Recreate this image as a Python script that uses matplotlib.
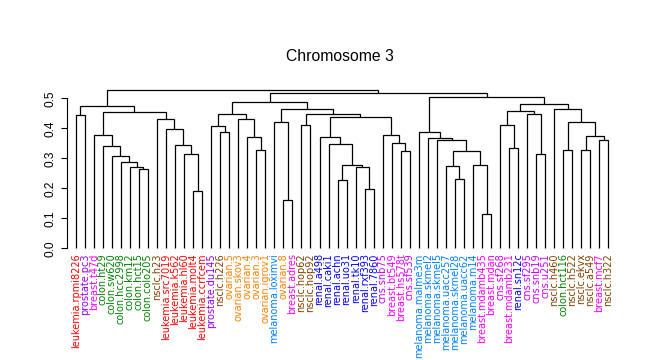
import matplotlib
matplotlib.use("Agg")
import matplotlib.pyplot as plt
import matplotlib.transforms as mtransforms

plt.rcParams['font.family'] = ['Liberation Sans', 'DejaVu Sans']

# leaf labels, left to right
labels = ["leukemia.rpmi8226", "prostate.pc3", "breast.t47d", "colon.ht29", "colon.sw620",
          "colon.hcc2998", "colon.km12", "colon.hct15", "colon.colo205", "nsclc.h23",
          "leukemia.src7019", "leukemia.k562", "leukemia.hl60", "leukemia.molt4", "leukemia.ccrfcem",
          "prostate.du145", "nsclc.h226", "ovarian.5", "ovarian.skov3", "ovarian.4",
          "ovarian.3", "ovarian.igrov1", "melanoma.loximvi", "ovarian.8", "breast.adres",
          "nsclc.hop62", "nsclc.hop92", "renal.a498", "renal.caki1", "renal.achn",
          "renal.uo31", "renal.tk10", "renal.rxf393", "renal.7860", "cns.snb75",
          "breast.bt549", "breast.hs578t", "cns.sf539", "melanoma.malme3m", "melanoma.skmel2",
          "melanoma.skmel5", "melanoma.uacc257", "melanoma.skmel28", "melanoma.uacc62", "melanoma.m14",
          "breast.mdamb435", "breast.mdan", "cns.sf268", "breast.mdamb231", "renal.sn12c",
          "cns.sf295", "cns.snb19", "cns.u251", "nsclc.h460", "colon.hct116",
          "nsclc.h522", "nsclc.ekvx", "nsclc.a549", "breast.mcf7", "nsclc.h322"]

type_colors = {"leukemia": "#ff0000", "prostate": "#9000ff", "breast": "#ff00ff",
               "colon": "#008000", "nsclc": "#804000", "ovarian": "#ff8000",
               "melanoma": "#0080ff", "renal": "#0000ff", "cns": "#cc00ff"}

# merge tree: (height, left, right); ints are leaf positions
left_tree = (0.474, (0.443, 0, 1),
             (0.453,
              (0.377, 2, (0.340, 3, (0.309, 4, (0.287, 5, (0.272, 6, (0.263, 7, 8)))))),
              (0.43, 9, (0.397, 10, (0.343, 11, (0.313, 12, (0.19, 13, 14)))))))

mid_ab = (0.447, (0.407, 15, (0.387, 16, 17)), (0.43, 18, (0.37, 19, (0.327, 20, 21))))
mid_c = (0.42, 22, (0.16, 23, 24))
mid_d = (0.41, 25, 26)
mid_e = (0.37, 27, (0.347, 28, (0.277, (0.227, 29, 30), (0.27, 31, (0.197, 32, 33)))))
mid_f = (0.377, 34, (0.35, 35, (0.323, 36, 37)))
mid_tree = (0.487, mid_ab, (0.463, mid_c, (0.447, mid_d, (0.437, mid_e, mid_f))))

mel_tree = (0.387, 38, (0.367, 39, (0.36, 40,
            (0.323, (0.273, 41, (0.23, 42, 43)), (0.277, 44, (0.113, 45, 46))))))
right_1 = (0.457, (0.41, 47, (0.333, 48, 49)), (0.447, 50, (0.313, 51, 52)))
right_2 = (0.463, 53, (0.42, (0.327, 54, 55), (0.373, (0.327, 56, 57), (0.36, 58, 59))))

tree = (0.527, left_tree, (0.517, mid_tree, (0.503, mel_tree, (0.48, right_1, right_2))))

fig = plt.figure(figsize=(6.47, 3.6), dpi=100)
ax = fig.add_axes([0.1031, 0.2936, 0.8513, 0.475])


def draw(node):
    if isinstance(node, int):
        return node, 0.0
    h, l, r = node
    xl, hl = draw(l)
    xr, hr = draw(r)
    ax.plot([xl, xl, xr, xr], [hl, h, h, hr], color="black", lw=0.9,
            solid_capstyle="butt", solid_joinstyle="miter")
    return (xl + xr) / 2, h


draw(tree)

ax.set_xlim(-1, 60)
ax.set_ylim(-0.02, 0.55)
for s in ["top", "right", "bottom"]:
    ax.spines[s].set_visible(False)
ax.spines["left"].set_bounds(0, 0.5)
ax.spines["left"].set_linewidth(0.8)
ax.set_xticks([])
ax.set_yticks([0.0, 0.1, 0.2, 0.3, 0.4, 0.5])
ax.set_yticklabels(["0.0", "0.1", "0.2", "0.3", "0.4", "0.5"], rotation=90, va="center")
ax.tick_params(axis="y", length=4.2, width=0.8, labelsize=8.6, pad=3)

offset = mtransforms.offset_copy(ax.transData, fig=fig, x=0, y=-5, units="dots")
for i, lab in enumerate(labels):
    ax.text(i, 0, lab, rotation=90, ha="center", va="top", fontsize=7.0,
            family="DejaVu Sans", color=type_colors[lab.split(".")[0]], transform=offset)

fig.text(0.526, 0.842, "Chromosome 3", ha="center", va="center", fontsize=11.3)

fig.savefig("out.png", dpi=100)
